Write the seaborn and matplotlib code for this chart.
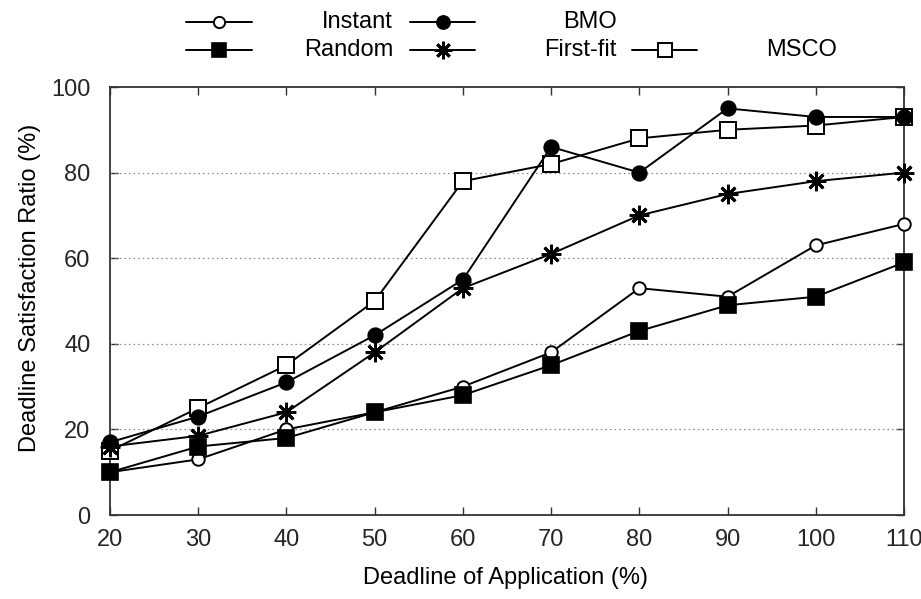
import matplotlib
matplotlib.use("Agg")
import matplotlib.pyplot as plt
from matplotlib.lines import Line2D
import seaborn as sns
import pandas as pd

# Deadline of application (%) on the x axis
deadline = [20, 30, 40, 50, 60, 70, 80, 90, 100, 110]

# Deadline satisfaction ratio (%) per scheduling policy
instant = [10, 13, 20, 24, 30, 38, 53, 51, 63, 68]
random_ = [10, 16, 18, 24, 28, 35, 43, 49, 51, 59]
bmo = [17, 23, 31, 42, 55, 86, 80, 95, 93, 93]
first_fit = [16, 18.5, 24, 38, 53, 61, 70, 75, 78, 80]
msco = [15, 25, 35, 50, 78, 82, 88, 90, 91, 93]

series_names = ["Instant", "Random", "BMO", "First-fit", "MSCO"]
series_values = [instant, random_, bmo, first_fit, msco]

y_ticks = [0, 20, 40, 60, 80, 100]

sns.set_theme(style="white")
plt.rcParams["font.family"] = ["Liberation Sans", "DejaVu Sans"]

FS = 17
styles = {
    "Instant":   dict(marker="o", ms=9, mfc="white", mew=1.4),
    "Random":    dict(marker="s", ms=11, mfc="black", mew=1.2),
    "BMO":       dict(marker="o", ms=10.5, mfc="black", mew=1.2),
    "First-fit": dict(marker=(8, 2, 0), ms=14, mfc="black", mew=2.0),
    "MSCO":      dict(marker="s", ms=11, mfc="white", mew=1.4),
}
draw_order = ["MSCO", "First-fit", "Instant", "Random", "BMO"]

df = pd.DataFrame({"deadline": deadline})
for name, vals in zip(series_names, series_values):
    df[name] = vals

fig = plt.figure(figsize=(9.21, 5.99), dpi=100)
ax = fig.add_axes([110 / 921, 1 - 515 / 599, (904 - 110) / 921, (515 - 87) / 599])

for name in draw_order:
    st = styles[name]
    sns.lineplot(data=df, x="deadline", y=name, ax=ax, color="black",
                 linewidth=1.4, marker=st["marker"], markersize=st["ms"],
                 markerfacecolor=st["mfc"], markeredgecolor="black",
                 markeredgewidth=st["mew"], legend=False, zorder=3,
                 clip_on=False)

ax.set_xlim(20, 110)
ax.set_ylim(0, 100)
ax.set_xticks(deadline)
ax.set_yticks(y_ticks)
ax.set_xticklabels([str(v) for v in deadline], fontsize=FS)
ax.set_yticklabels([str(v) for v in y_ticks], fontsize=FS)

for g in [20, 40, 60, 80]:
    ax.axhline(g, color="#888888", linestyle=(0, (1.2, 2.5)), linewidth=0.9, zorder=1)

ax.tick_params(axis="both", direction="in", length=6, width=1.0, color="#333333",
               top=True, right=True, bottom=True, left=True)
ax.tick_params(axis="x", pad=10)
ax.tick_params(axis="y", pad=14)
for sp in ax.spines.values():
    sp.set_visible(True)
    sp.set_color("#333333")
    sp.set_linewidth(1.3)

ax.set_xlabel("")
ax.set_ylabel("")
fig.text(505 / 921, 1 - 578 / 599, "Deadline of Application (%)", fontsize=FS,
         ha="center", va="center", color="black")
fig.text(30 / 921, 1 - 288 / 599, "Deadline Satisfaction Ratio (%)", fontsize=FS,
         ha="center", va="center", rotation=90, color="black")

# Key laid out in two rows: sample line on the left, right-justified title
legend_layout = [
    ("Instant", 186, 252, 393, 22),
    ("Random", 186, 252, 393, 50),
    ("BMO", 410, 475, 617, 22),
    ("First-fit", 410, 475, 617, 50),
    ("MSCO", 632, 697, 837, 50),
]
for name, x0, x1, xt, yp in legend_layout:
    st = styles[name]
    yf = 1 - yp / 599
    fig.add_artist(Line2D([x0 / 921, x1 / 921], [yf, yf], transform=fig.transFigure,
                          color="black", linewidth=1.4))
    fig.add_artist(Line2D([(x0 + x1) / 2 / 921], [yf], transform=fig.transFigure,
                          color="black", linestyle="none", marker=st["marker"],
                          markersize=st["ms"] * 0.9, markerfacecolor=st["mfc"],
                          markeredgecolor="black", markeredgewidth=st["mew"]))
    fig.text(xt / 921, yf, name, fontsize=FS, ha="right", va="center", color="black")

fig.savefig("out.png", dpi=100, facecolor="white")
